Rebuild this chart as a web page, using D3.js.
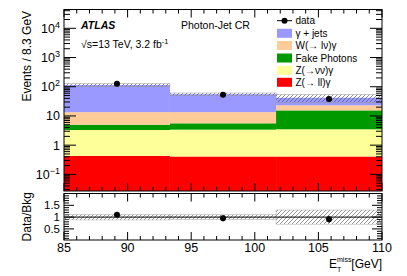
<!DOCTYPE html>
<html>
<head>
<script src="https://cdnjs.cloudflare.com/ajax/libs/d3/7.8.5/d3.min.js"></script>
<style>
body { margin: 0; background: white; }
text { font-family: "Liberation Sans", Arial, sans-serif; }
</style>
</head>
<body>
<div id="chart"></div>
<script>
// Data
const binEdges = [85, 93.33, 101.67, 110];
const processes = ["Z(\u2192 ll)\u03b3", "Z(\u2192\u03bd\u03bd)\u03b3", "Fake Photons", "W(\u2192 l\u03bd)\u03b3", "\u03b3 + jets"];
const zll = [0.43, 0.41, 0.41];
const znn = [2.87, 2.99, 3.09];
const fake = [1.7, 2.2, 12.0];
const wlnu = [8.5, 7.9, 7.5];
const gjets = [101.5, 42.1, 19.0];
const dataCounts = [126, 53, 38.2];
const sysRel = [0.12, 0.10, 0.30];
const colors = ["#ff0000", "#ffff99", "#009900", "#ffcc99", "#9999ff"];
const legendOrder = [4, 3, 2, 1, 0];
const yTickVals = [0.1, 1, 10, 100, 1000, 10000];
const xTickVals = [85, 90, 95, 100, 105, 110];
const ratioTickVals = [0.5, 1, 1.5];

const W = 407, H = 276;
const left = 64, right = 382;
const mainTop = 9.5, mainBot = 191;
const ratTop = 193.5, ratBot = 240;

const svg = d3.select("#chart").append("svg").attr("width", W).attr("height", H);

// hatch pattern for the uncertainty band
const defs = svg.append("defs");
const pat = defs.append("pattern").attr("id", "hatch").attr("patternUnits", "userSpaceOnUse")
  .attr("width", 4).attr("height", 4);
pat.append("path").attr("d", "M-1,5 L5,-1 M3,5 L5,3 M-1,1 L1,-1").attr("stroke", "#444").attr("stroke-width", 0.7);

const x = d3.scaleLinear().domain([85, 110]).range([left, right]);
const y = d3.scaleLog().domain([0.027, 44000]).range([mainBot, mainTop]);
const yr = d3.scaleLinear().domain([0.03, 2.0]).range([ratBot, ratTop]);

// stacks
const series = [zll, znn, fake, wlnu, gjets];
const bins = d3.range(3).map(i => ({ x0: binEdges[i], x1: binEdges[i + 1] }));
const total = bins.map((b, i) => d3.sum(series, s => s[i]));

const gMain = svg.append("g");
gMain.append("clipPath").attr("id", "mclip").append("rect")
  .attr("x", left).attr("y", mainTop).attr("width", right - left).attr("height", mainBot - mainTop);
const stackG = gMain.append("g").attr("clip-path", "url(#mclip)");

series.forEach((s, k) => {
  bins.forEach((b, i) => {
    const lo = k === 0 ? 0.001 : d3.sum(series.slice(0, k), t => t[i]);
    const top = k === 0 ? s[i] : lo + s[i];
    stackG.append("rect")
      .attr("x", x(b.x0)).attr("width", x(b.x1) - x(b.x0))
      .attr("y", y(top)).attr("height", y(lo) - y(top))
      .attr("fill", colors[k]);
  });
});

// uncertainty band on main
bins.forEach((b, i) => {
  const up = total[i] * (1 + sysRel[i]), dn = total[i] * (1 - sysRel[i]);
  stackG.append("rect")
    .attr("x", x(b.x0)).attr("width", x(b.x1) - x(b.x0))
    .attr("y", y(up)).attr("height", y(dn) - y(up))
    .attr("fill", "url(#hatch)").attr("stroke", "#999").attr("stroke-width", 0.5).attr("fill-opacity", 0.8);
});

// data points main
bins.forEach((b, i) => {
  const cx = x((b.x0 + b.x1) / 2);
  const e = Math.sqrt(dataCounts[i]);
  gMain.append("line").attr("x1", cx).attr("x2", cx)
    .attr("y1", y(dataCounts[i] + e)).attr("y2", y(dataCounts[i] - e)).attr("stroke", "black");
  gMain.append("circle").attr("cx", cx).attr("cy", y(dataCounts[i])).attr("r", 3).attr("fill", "black");
});

// frames
[[mainTop, mainBot], [ratTop, ratBot]].forEach(([t, bt]) => {
  svg.append("rect").attr("x", left).attr("y", t).attr("width", right - left).attr("height", bt - t)
    .attr("fill", "none").attr("stroke", "black").attr("stroke-width", 1);
});

// x ticks on both panels
function xTicks(t, bt) {
  d3.range(85, 110.01, 1).forEach(v => {
    const major = v % 5 === 0;
    const len = major ? 8 : 4;
    const px = x(v);
    svg.append("line").attr("x1", px).attr("x2", px).attr("y1", bt).attr("y2", bt - len).attr("stroke", "black");
    svg.append("line").attr("x1", px).attr("x2", px).attr("y1", t).attr("y2", t + len).attr("stroke", "black");
  });
}
xTicks(mainTop, mainBot);
xTicks(ratTop, ratBot);

// log y ticks
for (let e = -2; e <= 4; e++) {
  for (let m = 1; m <= 9; m++) {
    const v = m * Math.pow(10, e);
    if (v < y.domain()[0] || v > y.domain()[1]) continue;
    const len = m === 1 ? 12 : 6;
    const py = y(v);
    svg.append("line").attr("x1", left).attr("x2", left + len).attr("y1", py).attr("y2", py).attr("stroke", "black");
    svg.append("line").attr("x1", right).attr("x2", right - len).attr("y1", py).attr("y2", py).attr("stroke", "black");
  }
}
yTickVals.forEach(v => {
  const e = Math.round(Math.log10(v));
  const t = svg.append("text").attr("x", 60).attr("y", y(v) + 4.5).attr("text-anchor", "end").attr("font-size", 12.5);
  if (e === 0) t.text("1");
  else if (e === 1) t.text("10");
  else {
    t.append("tspan").text("10");
    t.append("tspan").attr("dy", -5).attr("font-size", 9).text(e < 0 ? "\u2212" + (-e) : e);
  }
});

// ratio y ticks
d3.range(0.1, 2.0, 0.1).forEach(v => {
  const major = Math.abs(v * 2 - Math.round(v * 2)) < 1e-6;
  const len = major ? 10 : 5;
  const py = yr(v);
  svg.append("line").attr("x1", left).attr("x2", left + len).attr("y1", py).attr("y2", py).attr("stroke", "black");
  svg.append("line").attr("x1", right).attr("x2", right - len).attr("y1", py).attr("y2", py).attr("stroke", "black");
});
ratioTickVals.forEach(v => {
  svg.append("text").attr("x", 60).attr("y", yr(v) + 4).attr("text-anchor", "end")
    .attr("font-size", 11.5).text(v);
});

// ratio band + points
bins.forEach((b, i) => {
  svg.append("rect")
    .attr("x", x(b.x0)).attr("width", x(b.x1) - x(b.x0))
    .attr("y", yr(1 + sysRel[i])).attr("height", yr(1 - sysRel[i]) - yr(1 + sysRel[i]))
    .attr("fill", "url(#hatch)").attr("stroke", "#aaa").attr("stroke-width", 0.5).attr("fill-opacity", 0.8);
});
svg.append("line").attr("x1", left).attr("x2", right).attr("y1", yr(1)).attr("y2", yr(1)).attr("stroke", "black");
bins.forEach((b, i) => {
  const cx = x((b.x0 + b.x1) / 2);
  const r = dataCounts[i] / total[i];
  const er = Math.sqrt(dataCounts[i]) / total[i];
  svg.append("line").attr("x1", cx).attr("x2", cx).attr("y1", yr(r + er)).attr("y2", yr(r - er)).attr("stroke", "black");
  svg.append("circle").attr("cx", cx).attr("cy", yr(r)).attr("r", 3).attr("fill", "black");
});

// x tick labels
xTickVals.forEach(v => {
  svg.append("text").attr("x", x(v)).attr("y", 251.5).attr("text-anchor", "middle").attr("font-size", 12.5).text(v);
});

// axis titles
svg.append("text").attr("transform", `translate(31,${(mainTop + 95) / 2 + 4}) rotate(-90)`)
  .attr("text-anchor", "middle").attr("font-size", 12).text("Events / 8.3 GeV");
svg.append("text").attr("transform", `translate(31,${(ratTop + ratBot) / 2}) rotate(-90)`)
  .attr("text-anchor", "middle").attr("font-size", 12).text("Data/Bkg");

const xl = svg.append("g");
xl.append("text").attr("x", 329).attr("y", 268).attr("font-size", 12).text("E");
xl.append("text").attr("x", 337).attr("y", 262).attr("font-size", 7).text("miss");
xl.append("text").attr("x", 337).attr("y", 272).attr("font-size", 7).text("T");
xl.append("text").attr("x", 382).attr("y", 268).attr("text-anchor", "end").attr("font-size", 12).text("[GeV]");

// labels
svg.append("text").attr("x", 81).attr("y", 29).attr("font-size", 10.5).attr("font-weight", "bold")
  .attr("font-style", "italic").text("ATLAS");
svg.append("text").attr("x", 181).attr("y", 29).attr("font-size", 10.5).text("Photon-Jet CR");
const lum = svg.append("text").attr("x", 81).attr("y", 48).attr("font-size", 10.5);
lum.append("tspan").text("\u221as=13 TeV, 3.2 fb");
lum.append("tspan").attr("dy", -4).attr("font-size", 7.5).text("-1");

// legend
const lg = svg.append("g");
const rowY = [20.7, 33.3, 45.5, 58, 70.3, 82.3];
lg.append("line").attr("x1", 277).attr("x2", 292).attr("y1", rowY[0]).attr("y2", rowY[0]).attr("stroke", "black");
lg.append("circle").attr("cx", 284.5).attr("cy", rowY[0]).attr("r", 3).attr("fill", "black");
lg.append("text").attr("x", 295.5).attr("y", rowY[0] + 3.5).attr("font-size", 10).text("data");
legendOrder.forEach((k, j) => {
  const yy = rowY[j + 1];
  lg.append("rect").attr("x", 277).attr("y", yy - 4.5).attr("width", 15).attr("height", 9).attr("fill", colors[k]);
  lg.append("text").attr("x", 295.5).attr("y", yy + 3.5).attr("font-size", 10).text(processes[k]);
});
</script>
</body>
</html>
